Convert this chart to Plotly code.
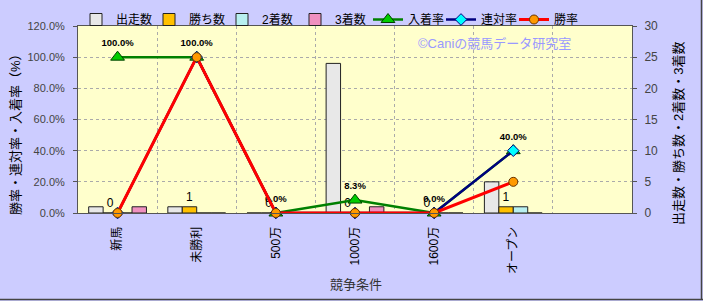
import plotly.graph_objects as go

categories = ["新馬", "未勝利", "500万", "1000万", "1600万", "オープン"]
runs = [1, 1, 0, 24, 0, 5]
wins = [0, 1, 0, 0, 0, 1]
seconds = [0, 0, 0, 0, 0, 1]
thirds = [1, 0, 0, 1, 0, 0]
win_rate = [0, 100, 0, 0, 0, 20]
rentai_rate = [0, 100, 0, 0, 0, 40]
place_rate = [100, 100, 0, 8.3, 0, 40]

x = list(range(len(categories)))
FONT = "Liberation Sans, Noto Sans CJK JP, sans-serif"

fig = go.Figure()

bar_specs = [
    ("出走数", runs, "#E8E8E8"),
    ("勝ち数", wins, "#FFC000"),
    ("2着数", seconds, "#B8F0F0"),
    ("3着数", thirds, "#F090C0"),
]
for name, vals, col in bar_specs:
    fig.add_trace(go.Bar(
        x=x, y=vals, name=name, yaxis="y",
        marker=dict(color=col, line=dict(color="#222222", width=1)),
        text=[str(v) for v in vals] if name == "勝ち数" else None,
        textposition="outside" if name == "勝ち数" else None,
        textfont=dict(size=12, color="#000000"),
        cliponaxis=False,
    ))

fig.add_trace(go.Scatter(
    x=x, y=place_rate, name="入着率", yaxis="y2", mode="lines+markers+text",
    line=dict(color="#008000", width=2.5),
    marker=dict(symbol="triangle-up", size=12, color="#00CC00", line=dict(color="#004000", width=1)),
    text=[f"{v:.1f}%" for v in place_rate], textposition="top center",
    textfont=dict(size=9.5, color="#000000", family=FONT, weight="bold"),
    cliponaxis=False,
))
fig.add_trace(go.Scatter(
    x=x, y=rentai_rate, name="連対率", yaxis="y2", mode="lines+markers",
    line=dict(color="#000080", width=2.5),
    marker=dict(symbol="diamond", size=9, color="#00FFFF", line=dict(color="#000080", width=1)),
    cliponaxis=False,
))
fig.add_trace(go.Scatter(
    x=x, y=win_rate, name="勝率", yaxis="y2", mode="lines+markers",
    line=dict(color="#FF0000", width=3),
    marker=dict(symbol="circle", size=9, color="#FF9900", line=dict(color="#663300", width=1)),
    cliponaxis=False,
))

PW, PH = 554, 187
def px_x(p):
    return (p - 78) / PW
def px_y(p):
    return (213 - p) / PH

fig.update_layout(
    width=703, height=301,
    margin=dict(l=78, r=71, t=26, b=88, autoexpand=False),
    paper_bgcolor="#CCCCFF", plot_bgcolor="#FFFFCC",
    font=dict(family=FONT, size=12, color="#000000"),
    barmode="group", bargap=0.27, bargroupgap=0,
    showlegend=True,
    legend=dict(orientation="h", x=px_x(76), y=px_y(5), xanchor="left", yanchor="top",
                bgcolor="rgba(0,0,0,0)", font=dict(size=12), itemwidth=30,
                entrywidth=28, entrywidthmode="pixels", tracegroupgap=0),
    xaxis=dict(
        range=[-0.5, 6.5], tickmode="array", tickvals=x, ticktext=categories,
        tickangle=-90, showgrid=False, zeroline=False,
        showline=True, linecolor="#555555", mirror=True,
        ticks="", tickfont=dict(size=12, color="#000000"), ticklabelstandoff=8,
        minor=dict(tickmode="array", tickvals=[i + 0.5 for i in range(6)],
                   showgrid=True, gridcolor="#AAAAAA", griddash="dot", gridwidth=1),
    ),
    yaxis=dict(
        side="right", range=[0, 30], dtick=5, showgrid=False, zeroline=False,
        showline=True, linecolor="#555555", ticks="outside", ticklen=4,
        tickcolor="#555555", tickfont=dict(size=12, color="#444444"),
        ticklabelstandoff=5,
    ),
    yaxis2=dict(
        overlaying="y", side="left", range=[0, 120], dtick=20,
        ticksuffix="%", tickformat=".1f",
        showgrid=True, gridcolor="#AAAAAA", griddash="dot", gridwidth=1,
        zeroline=False, showline=True, linecolor="#555555",
        ticks="outside", ticklen=4, tickcolor="#555555",
        tickfont=dict(size=11, color="#444444"), ticklabelstandoff=6,
    ),
)

def note(text, px, py, size, color, angle=0):
    fig.add_annotation(text=text, xref="paper", yref="paper",
                       x=px_x(px), y=px_y(py), xanchor="center", yanchor="middle",
                       textangle=angle, showarrow=False,
                       font=dict(size=size, color=color))

note("©Caniの競馬データ研究室", 494, 43, 13, "#9999FF")
note("勝率・連対率・入着率（%）", 15, 131, 13, "#000000", -90)
note("出走数・勝ち数・2着数・3着数", 678, 134, 13, "#000000", -90)
note("競争条件", 356, 284, 13, "#333333")

fig.add_shape(type="line", xref="paper", yref="paper",
              x0=px_x(701.5), x1=px_x(701.5), y0=px_y(0), y1=px_y(300),
              line=dict(color="#444444", width=1.5))
fig.add_shape(type="line", xref="paper", yref="paper",
              x0=px_x(0), x1=px_x(703), y0=px_y(299.5), y1=px_y(299.5),
              line=dict(color="#444444", width=1.5))

fig.write_html("out.html")
